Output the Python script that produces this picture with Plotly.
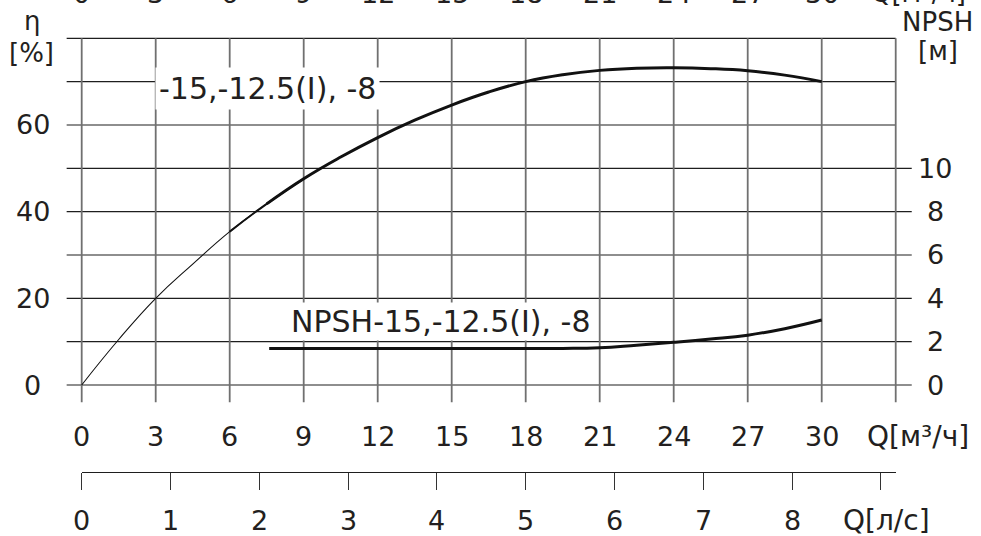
import plotly.graph_objects as go

# ---- chart data -------------------------------------------------------
# efficiency curve, Q in m3/h, eta in %
q_eff = [0, 1.5, 3, 4.5, 6, 7.5, 9, 10.5, 12, 13.5, 15, 16.5, 18, 19.5,
         21, 22.5, 24, 25.5, 27, 28.5, 30]
eff = [0, 10.5, 20, 27.9, 35.4, 41.8, 47.6, 52.6, 57.1, 61.1, 64.6, 67.6,
       70.0, 71.6, 72.6, 73.1, 73.2, 73.0, 72.5, 71.5, 70.0]

# NPSH curve, Q in m3/h, NPSH in m
q_npsh = [7.6, 9, 12, 15, 18, 19.5, 21, 22.5, 24, 25.5, 27, 28.5, 30]
npsh = [1.69, 1.69, 1.69, 1.69, 1.69, 1.69, 1.72, 1.84, 1.97, 2.12, 2.30,
        2.60, 3.0]

q_ticks = [0, 3, 6, 9, 12, 15, 18, 21, 24, 27, 30]
q_grid = [0, 3, 6, 9, 12, 15, 18, 21, 24, 27, 30, 33]
qls_ticks = [0, 1, 2, 3, 4, 5, 6, 7, 8, 9]
qls_labels = ["0", "1", "2", "3", "4", "5", "6", "7", "8", ""]
eff_ticks = [0, 20, 40, 60]
eff_grid = [0, 10, 20, 30, 40, 50, 60, 70, 80]
npsh_ticks = [0, 2, 4, 6, 8, 10]

eff_label = "-15,-12.5(I), -8"
npsh_label = "NPSH-15,-12.5(I), -8"

# ---- geometry ----------------------------------------------------------
W, H = 981, 536
X0_PX, PX_PER_Q = 81.7, 24.667        # pixel of Q=0, pixels per m3/h
Y0_PX, PX_PER_ETA = 385.0, 4.3337     # pixel of eta=0, pixels per %
NPSH_SCALE = 5.0                      # 1 m NPSH == 5 % on the grid
M3H_PER_LS = 3.6

X_RANGE = [-0.7, 34.0]
Y_RANGE = [-4.5, 81.0]

x_dom = [(X0_PX + X_RANGE[0] * PX_PER_Q) / W, (X0_PX + X_RANGE[1] * PX_PER_Q) / W]
y_dom = [1 - (Y0_PX - Y_RANGE[0] * PX_PER_ETA) / H, 1 - (Y0_PX - Y_RANGE[1] * PX_PER_ETA) / H]


def px_x(px):
    return px / W


def px_y(py):
    return 1 - py / H


INK = "#231f20"
NUM_FONT = dict(family="DejaVu Sans", size=27, color=INK)
LABEL_FONT = dict(family="DejaVu Sans", size=30, color=INK)
UNIT_FONT = dict(family="DejaVu Sans", size=26, color=INK)
QUNIT_FONT = dict(family="DejaVu Sans", size=28, color=INK)

fig = go.Figure()

# efficiency curve: hairline at low flow, heavier towards the working range
seg_thin = [i for i, q in enumerate(q_eff) if q <= 7.5]
seg_mid = [i for i, q in enumerate(q_eff) if 6 <= q <= 9]
seg_thick = [i for i, q in enumerate(q_eff) if q >= 7.5]
for idx, w in ((seg_thin, 1.1), (seg_mid, 2.0), (seg_thick, 3.0)):
    fig.add_trace(go.Scatter(
        x=[q_eff[i] for i in idx], y=[eff[i] for i in idx],
        mode="lines", line=dict(color="#111", width=w, shape="spline", smoothing=1.3),
        showlegend=False, hoverinfo="skip", xaxis="x", yaxis="y"))

# NPSH curve on its own (right) scale
fig.add_trace(go.Scatter(
    x=q_npsh, y=npsh, mode="lines",
    line=dict(color="#111", width=3.0, shape="spline", smoothing=1.3),
    showlegend=False, hoverinfo="skip", xaxis="x", yaxis="y2"))

# carrier for the l/s scale below the chart
fig.add_trace(go.Scatter(x=[0], y=[None], mode="lines", showlegend=False,
                         hoverinfo="skip", xaxis="x2", yaxis="y"))

# ---- grid ---------------------------------------------------------------
shapes = []
npsh_levels = [v * NPSH_SCALE for v in npsh_ticks]
for e in eff_grid:
    x_end = 33.65 if e in npsh_levels else 33
    shapes.append(dict(type="line", xref="x", yref="y", x0=-0.61, x1=x_end,
                       y0=e, y1=e, line=dict(color="#1e1e1e", width=1.2),
                       layer="below"))
for q in q_grid:
    shapes.append(dict(type="line", xref="x", yref="y", x0=q, x1=q,
                       y0=-4.0, y1=80, line=dict(color="#707070", width=1.8),
                       layer="below"))

# ---- text -----------------------------------------------------------------
ann = []
for e in eff_ticks:
    ann.append(dict(x=px_x(32.5), xref="paper", y=e, yref="y", text=str(e),
                    showarrow=False, xanchor="center", yanchor="middle", font=NUM_FONT))
for n in npsh_ticks:
    ann.append(dict(x=px_x(935), xref="paper", y=n, yref="y2", text=str(n),
                    showarrow=False, xanchor="center", yanchor="middle", font=NUM_FONT))
for q in q_ticks:
    ann.append(dict(x=q, xref="x", y=px_y(436), yref="paper", text=str(q),
                    showarrow=False, xanchor="center", yanchor="middle", font=NUM_FONT))
    # upper copy of the flow scale, running off the top edge
    ann.append(dict(x=q, xref="x", y=px_y(-6.5), yref="paper", text=str(q),
                    showarrow=False, xanchor="center", yanchor="middle", font=NUM_FONT))
ann.append(dict(x=px_x(918), xref="paper", y=px_y(436), yref="paper", text="Q[м³/ч]",
                showarrow=False, xanchor="center", yanchor="middle", font=QUNIT_FONT))
ann.append(dict(x=px_x(918), xref="paper", y=px_y(-7), yref="paper", text="Q[м³/ч]",
                showarrow=False, xanchor="center", yanchor="middle", font=UNIT_FONT))
for v, t in zip(qls_ticks, qls_labels):
    if t:
        ann.append(dict(x=v, xref="x2", y=px_y(520), yref="paper", text=t,
                        showarrow=False, xanchor="center", yanchor="middle", font=NUM_FONT))
ann.append(dict(x=px_x(886), xref="paper", y=px_y(520), yref="paper", text="Q[л/с]",
                showarrow=False, xanchor="center", yanchor="middle", font=QUNIT_FONT))

ann.append(dict(x=px_x(31.5), xref="paper", y=px_y(21), yref="paper", text="η",
                showarrow=False, xanchor="center", yanchor="middle", font=UNIT_FONT))
ann.append(dict(x=px_x(31.5), xref="paper", y=px_y(53), yref="paper", text="[%]",
                showarrow=False, xanchor="center", yanchor="middle", font=UNIT_FONT))
ann.append(dict(x=px_x(937.5), xref="paper", y=px_y(22), yref="paper", text="NPSH",
                showarrow=False, xanchor="center", yanchor="middle", font=UNIT_FONT))
ann.append(dict(x=px_x(938), xref="paper", y=px_y(51), yref="paper", text="[м]",
                showarrow=False, xanchor="center", yanchor="middle", font=UNIT_FONT))

# curve captions on white boxes
ann.append(dict(x=7.53, xref="x", y=68.5, yref="y", text=eff_label, showarrow=False,
                xanchor="center", yanchor="middle", font=LABEL_FONT,
                bgcolor="white", borderpad=3))
ann.append(dict(x=14.55, xref="x", y=2.95, yref="y2", text=npsh_label, showarrow=False,
                xanchor="center", yanchor="middle", font=LABEL_FONT,
                bgcolor="white", borderpad=1))

fig.update_layout(
    width=W, height=H,
    margin=dict(l=0, r=0, t=0, b=0),
    paper_bgcolor="white", plot_bgcolor="rgba(0,0,0,0)",
    showlegend=False,
    shapes=shapes,
    annotations=ann,
    xaxis=dict(domain=x_dom, range=X_RANGE, visible=False),
    yaxis=dict(domain=y_dom, range=Y_RANGE, visible=False),
    yaxis2=dict(overlaying="y", range=[Y_RANGE[0] / NPSH_SCALE, Y_RANGE[1] / NPSH_SCALE],
                visible=False),
    xaxis2=dict(domain=[px_x(X0_PX), px_x(X0_PX + 33 * PX_PER_Q)],
                range=[0, 33 / M3H_PER_LS], anchor="free", position=px_y(472.3),
                showline=True, linecolor="#1e1e1e", linewidth=1.3,
                ticks="outside", ticklen=17, tickwidth=1.3, tickcolor="#333",
                tickvals=qls_ticks, showticklabels=False,
                showgrid=False, zeroline=False, fixedrange=True),
)

fig.write_html("out.html")
